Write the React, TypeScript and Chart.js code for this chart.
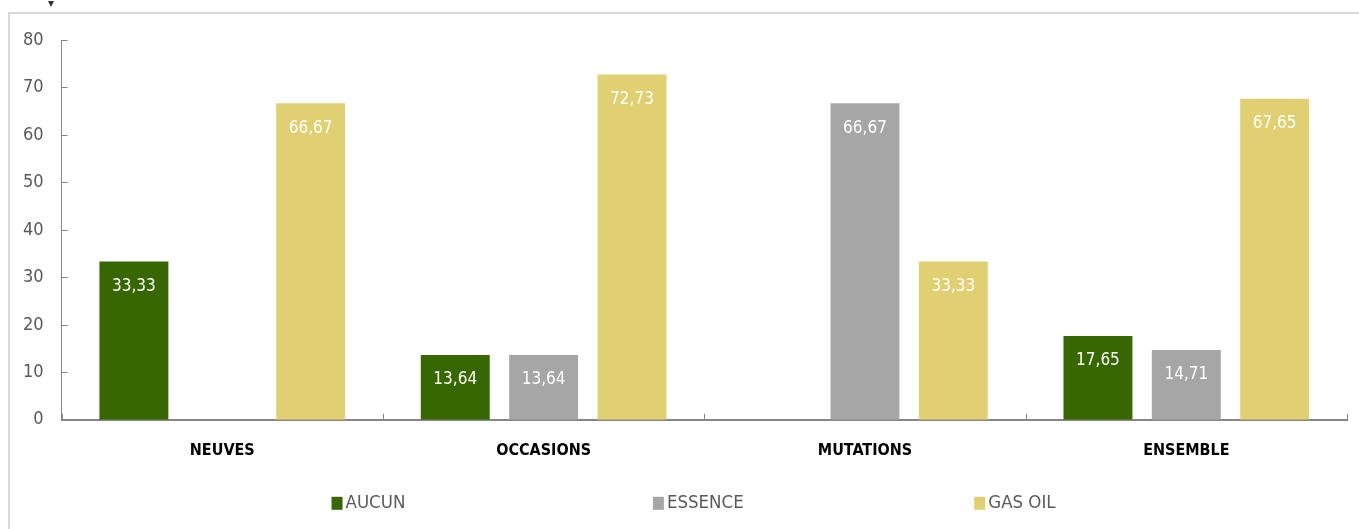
import React, { useEffect, useRef } from "react";
import { Chart, registerables } from "chart.js";

Chart.register(...registerables);

const categories = ["NEUVES", "OCCASIONS", "MUTATIONS", "ENSEMBLE"];
const seriesNames = ["AUCUN", "ESSENCE", "GAS OIL"];
const aucun = [33.33, 13.64, 0, 17.65];
const essence = [0, 13.64, 66.67, 14.71];
const gasOil = [66.67, 72.73, 33.33, 67.65];
const seriesColors = ["#366700", "#a6a6a6", "#e0d072"];
const yTicks = [0, 10, 20, 30, 40, 50, 60, 70, 80];

const FONT = "'DejaVu Sans Condensed', 'DejaVu Sans', sans-serif";

const fmt = (v: number) => v.toFixed(2).replace(".", ",");

const labelsPlugin = {
  id: "valueLabels",
  afterDatasetsDraw(chart: any) {
    const ctx = chart.ctx;
    ctx.save();
    ctx.fillStyle = "#ffffff";
    ctx.font = `17px ${FONT}`;
    ctx.textAlign = "center";
    ctx.textBaseline = "middle";
    chart.data.datasets.forEach((ds: any, di: number) => {
      const meta = chart.getDatasetMeta(di);
      meta.data.forEach((el: any, i: number) => {
        const v = ds.data[i];
        if (!v) return;
        ctx.fillText(fmt(v), el.x, el.y + 25);
      });
    });
    ctx.restore();
  },
};

const ticksPlugin = {
  id: "innerTicks",
  afterDraw(chart: any) {
    const ctx = chart.ctx;
    const area = chart.chartArea;
    const ys = chart.scales.y;
    const xs = chart.scales.x;
    ctx.save();
    ctx.strokeStyle = "#868686";
    ctx.lineWidth = 1;
    ys.ticks.forEach((t: any) => {
      const y = Math.round(ys.getPixelForValue(t.value)) + 0.5;
      ctx.beginPath();
      ctx.moveTo(area.left, y);
      ctx.lineTo(area.left + 6, y);
      ctx.stroke();
    });
    const n = categories.length;
    for (let i = 0; i <= n; i++) {
      const x = Math.round(xs.left + (i * xs.width) / n) + 0.5;
      ctx.beginPath();
      ctx.moveTo(x, area.bottom - 6);
      ctx.lineTo(x, area.bottom);
      ctx.stroke();
    }
    // legend
    ctx.font = `18.5px ${FONT}`;
    ctx.textBaseline = "middle";
    ctx.textAlign = "left";
    const ly = area.bottom + 83;
    seriesNames.forEach((name, i) => {
      const x0 = area.left + area.width * 0.21 + (i * area.width) / 4;
      ctx.fillStyle = seriesColors[i];
      ctx.fillRect(x0, ly - 6, 11, 13);
      ctx.fillStyle = "#595959";
      ctx.fillText(name, x0 + 14, ly);
    });
    ctx.restore();
  },
};

export default function App() {
  const ref = useRef<HTMLCanvasElement>(null);
  useEffect(() => {
    document.body.style.margin = "0";
    const chart = new Chart(ref.current!, {
      type: "bar",
      data: {
        labels: categories,
        datasets: [aucun, essence, gasOil].map((d, i) => ({
          label: seriesNames[i],
          data: d,
          backgroundColor: seriesColors[i],
          barPercentage: 0.78,
          categoryPercentage: 0.825,
        })),
      },
      options: {
        responsive: false,
        animation: false,
        layout: { padding: { left: 5, right: 12, top: 40, bottom: 48 } },
        plugins: { legend: { display: false }, tooltip: { enabled: false } },
        scales: {
          x: {
            grid: { display: false, drawTicks: false },
            border: { display: true, color: "#868686", width: 2 },
            ticks: {
              color: "#000000",
              font: { family: FONT, size: 16, weight: "bold" },
              padding: 21,
            },
          },
          y: {
            min: 0,
            max: 80,
            afterBuildTicks: (s: any) => {
              s.ticks = yTicks.map((v) => ({ value: v }));
            },
            grid: { display: false, drawTicks: false },
            border: { display: true, color: "#868686", width: 1 },
            ticks: {
              color: "#595959",
              font: { family: FONT, size: 18 },
              padding: 18,
            },
          },
        },
      },
      plugins: [labelsPlugin, ticksPlugin],
    });
    return () => chart.destroy();
  }, []);
  return (
    <div style={{ position: "relative", width: 1359, height: 529, overflow: "hidden", background: "#fff" }}>
      <div
        style={{
          position: "absolute",
          left: 8,
          top: 12,
          width: 3000,
          height: 600,
          borderLeft: "2px solid #d9d9d9",
          borderTop: "2px solid #d9d9d9",
        }}
      />
      <div
        style={{
          position: "absolute",
          left: 48,
          top: 1,
          width: 0,
          height: 0,
          borderLeft: "3px solid transparent",
          borderRight: "3px solid transparent",
          borderTop: "6px solid #333",
        }}
      />
      <canvas ref={ref} width={1359} height={529} style={{ position: "absolute", left: 0, top: 0 }} />
    </div>
  );
}
